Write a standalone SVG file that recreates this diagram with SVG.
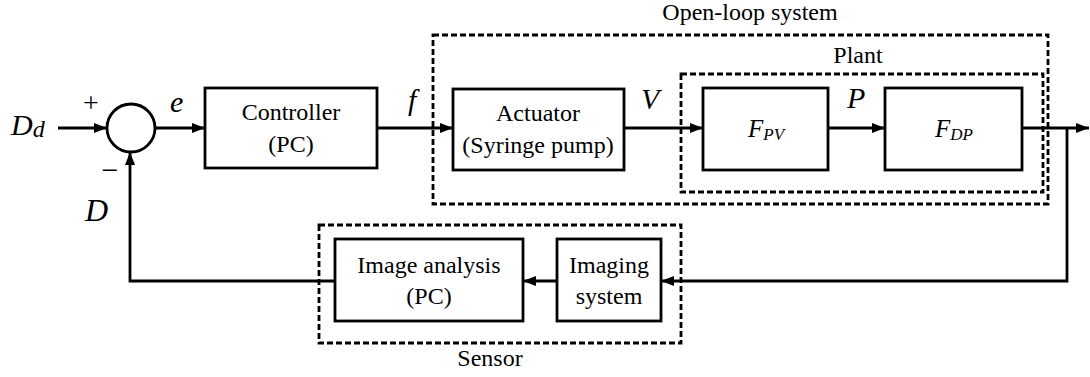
<svg xmlns="http://www.w3.org/2000/svg" width="1090" height="377" viewBox="0 0 1090 377">
  <style>
    .blk { fill: #fff; stroke: #000; stroke-width: 2.8; }
    .grp { fill: none; stroke: #000; stroke-width: 2.8; stroke-dasharray: 6 3; }
    .wire { fill: none; stroke: #000; stroke-width: 2.8; }
    text { font-family: "Liberation Serif", Tinos, "Times New Roman", "DejaVu Serif", serif; fill: #000; }
    .lbl { font-size: 24px; text-anchor: middle; }
    .sig { font-style: italic; font-size: 30px; }
    .tf { font-style: italic; font-size: 25px; text-anchor: middle; }
    .sub { font-size: 17px; }
  </style>
  <defs>
    <marker id="arrow" viewBox="0 0 13 10" refX="13" refY="5" markerWidth="13" markerHeight="10" markerUnits="userSpaceOnUse" orient="auto">
      <path d="M0,0 L13,5 L0,10 Z" fill="#000"/>
    </marker>
  </defs>

  <rect width="1090" height="377" fill="#fff"/>

  <!-- dashed grouping frames -->
  <g id="open-loop-system">
    <rect class="grp" x="433" y="35" width="615" height="169"/>
    <text class="lbl" x="750" y="20">Open-loop system</text>
  </g>
  <g id="plant">
    <rect class="grp" x="681" y="74" width="362" height="118"/>
    <text class="lbl" x="858" y="63">Plant</text>
  </g>
  <g id="sensor">
    <rect class="grp" x="319" y="225" width="362" height="118"/>
    <text class="lbl" x="490" y="366">Sensor</text>
  </g>

  <!-- connectors -->
  <g id="connectors">
    <line class="wire" x1="58" y1="128" x2="107" y2="128" marker-end="url(#arrow)"/>
    <line class="wire" x1="156" y1="128" x2="205" y2="128" marker-end="url(#arrow)"/>
    <line class="wire" x1="377" y1="128" x2="453" y2="128" marker-end="url(#arrow)"/>
    <line class="wire" x1="624" y1="128" x2="703" y2="128" marker-end="url(#arrow)"/>
    <line class="wire" x1="828" y1="128" x2="885" y2="128" marker-end="url(#arrow)"/>
    <line class="wire" x1="1022" y1="128" x2="1089" y2="128" marker-end="url(#arrow)"/>
    <polyline class="wire" points="1067,128 1067,281 661,281" marker-end="url(#arrow)"/>
    <line class="wire" x1="557" y1="281" x2="523" y2="281" marker-end="url(#arrow)"/>
    <polyline class="wire" points="335,281 130,281 130,152" marker-end="url(#arrow)"/>
  </g>

  <!-- summing junction -->
  <g id="sum">
    <circle cx="131" cy="128" r="24" fill="#fff" stroke="#000" stroke-width="2.8"/>
    <text class="lbl" x="91" y="112" style="font-size:28px">+</text>
    <text class="lbl" x="110" y="180" style="font-size:30px">−</text>
  </g>

  <!-- blocks -->
  <g id="controller">
    <rect class="blk" x="205" y="88" width="172" height="80"/>
    <text class="lbl" x="291" y="120">Controller</text>
    <text class="lbl" x="291" y="152">(PC)</text>
  </g>
  <g id="actuator">
    <rect class="blk" x="453" y="89" width="171" height="81"/>
    <text class="lbl" x="538" y="121">Actuator</text>
    <text class="lbl" x="538" y="153">(Syringe pump)</text>
  </g>
  <g id="f-pv">
    <rect class="blk" x="703" y="88" width="125" height="82"/>
    <text class="tf" x="766" y="137">F<tspan class="sub" dy="3">PV</tspan></text>
  </g>
  <g id="f-dp">
    <rect class="blk" x="885" y="88" width="137" height="82"/>
    <text class="tf" x="954" y="137">F<tspan class="sub" dy="3">DP</tspan></text>
  </g>
  <g id="image-analysis">
    <rect class="blk" x="335" y="239" width="188" height="82"/>
    <text class="lbl" x="429" y="273">Image analysis</text>
    <text class="lbl" x="429" y="304">(PC)</text>
  </g>
  <g id="imaging-system">
    <rect class="blk" x="557" y="239" width="104" height="82"/>
    <text class="lbl" x="609" y="273">Imaging</text>
    <text class="lbl" x="609" y="304">system</text>
  </g>

  <!-- signal names -->
  <g id="signals">
    <text class="sig" x="11" y="135">D<tspan style="font-size:24px" dy="2">d</tspan></text>
    <text class="sig" x="170" y="112">e</text>
    <text class="sig" x="408" y="110">f</text>
    <text class="sig" x="641" y="109">V</text>
    <text class="sig" x="847" y="108">P</text>
    <text class="sig" x="85" y="221" style="font-size:32px">D</text>
  </g>
</svg>
